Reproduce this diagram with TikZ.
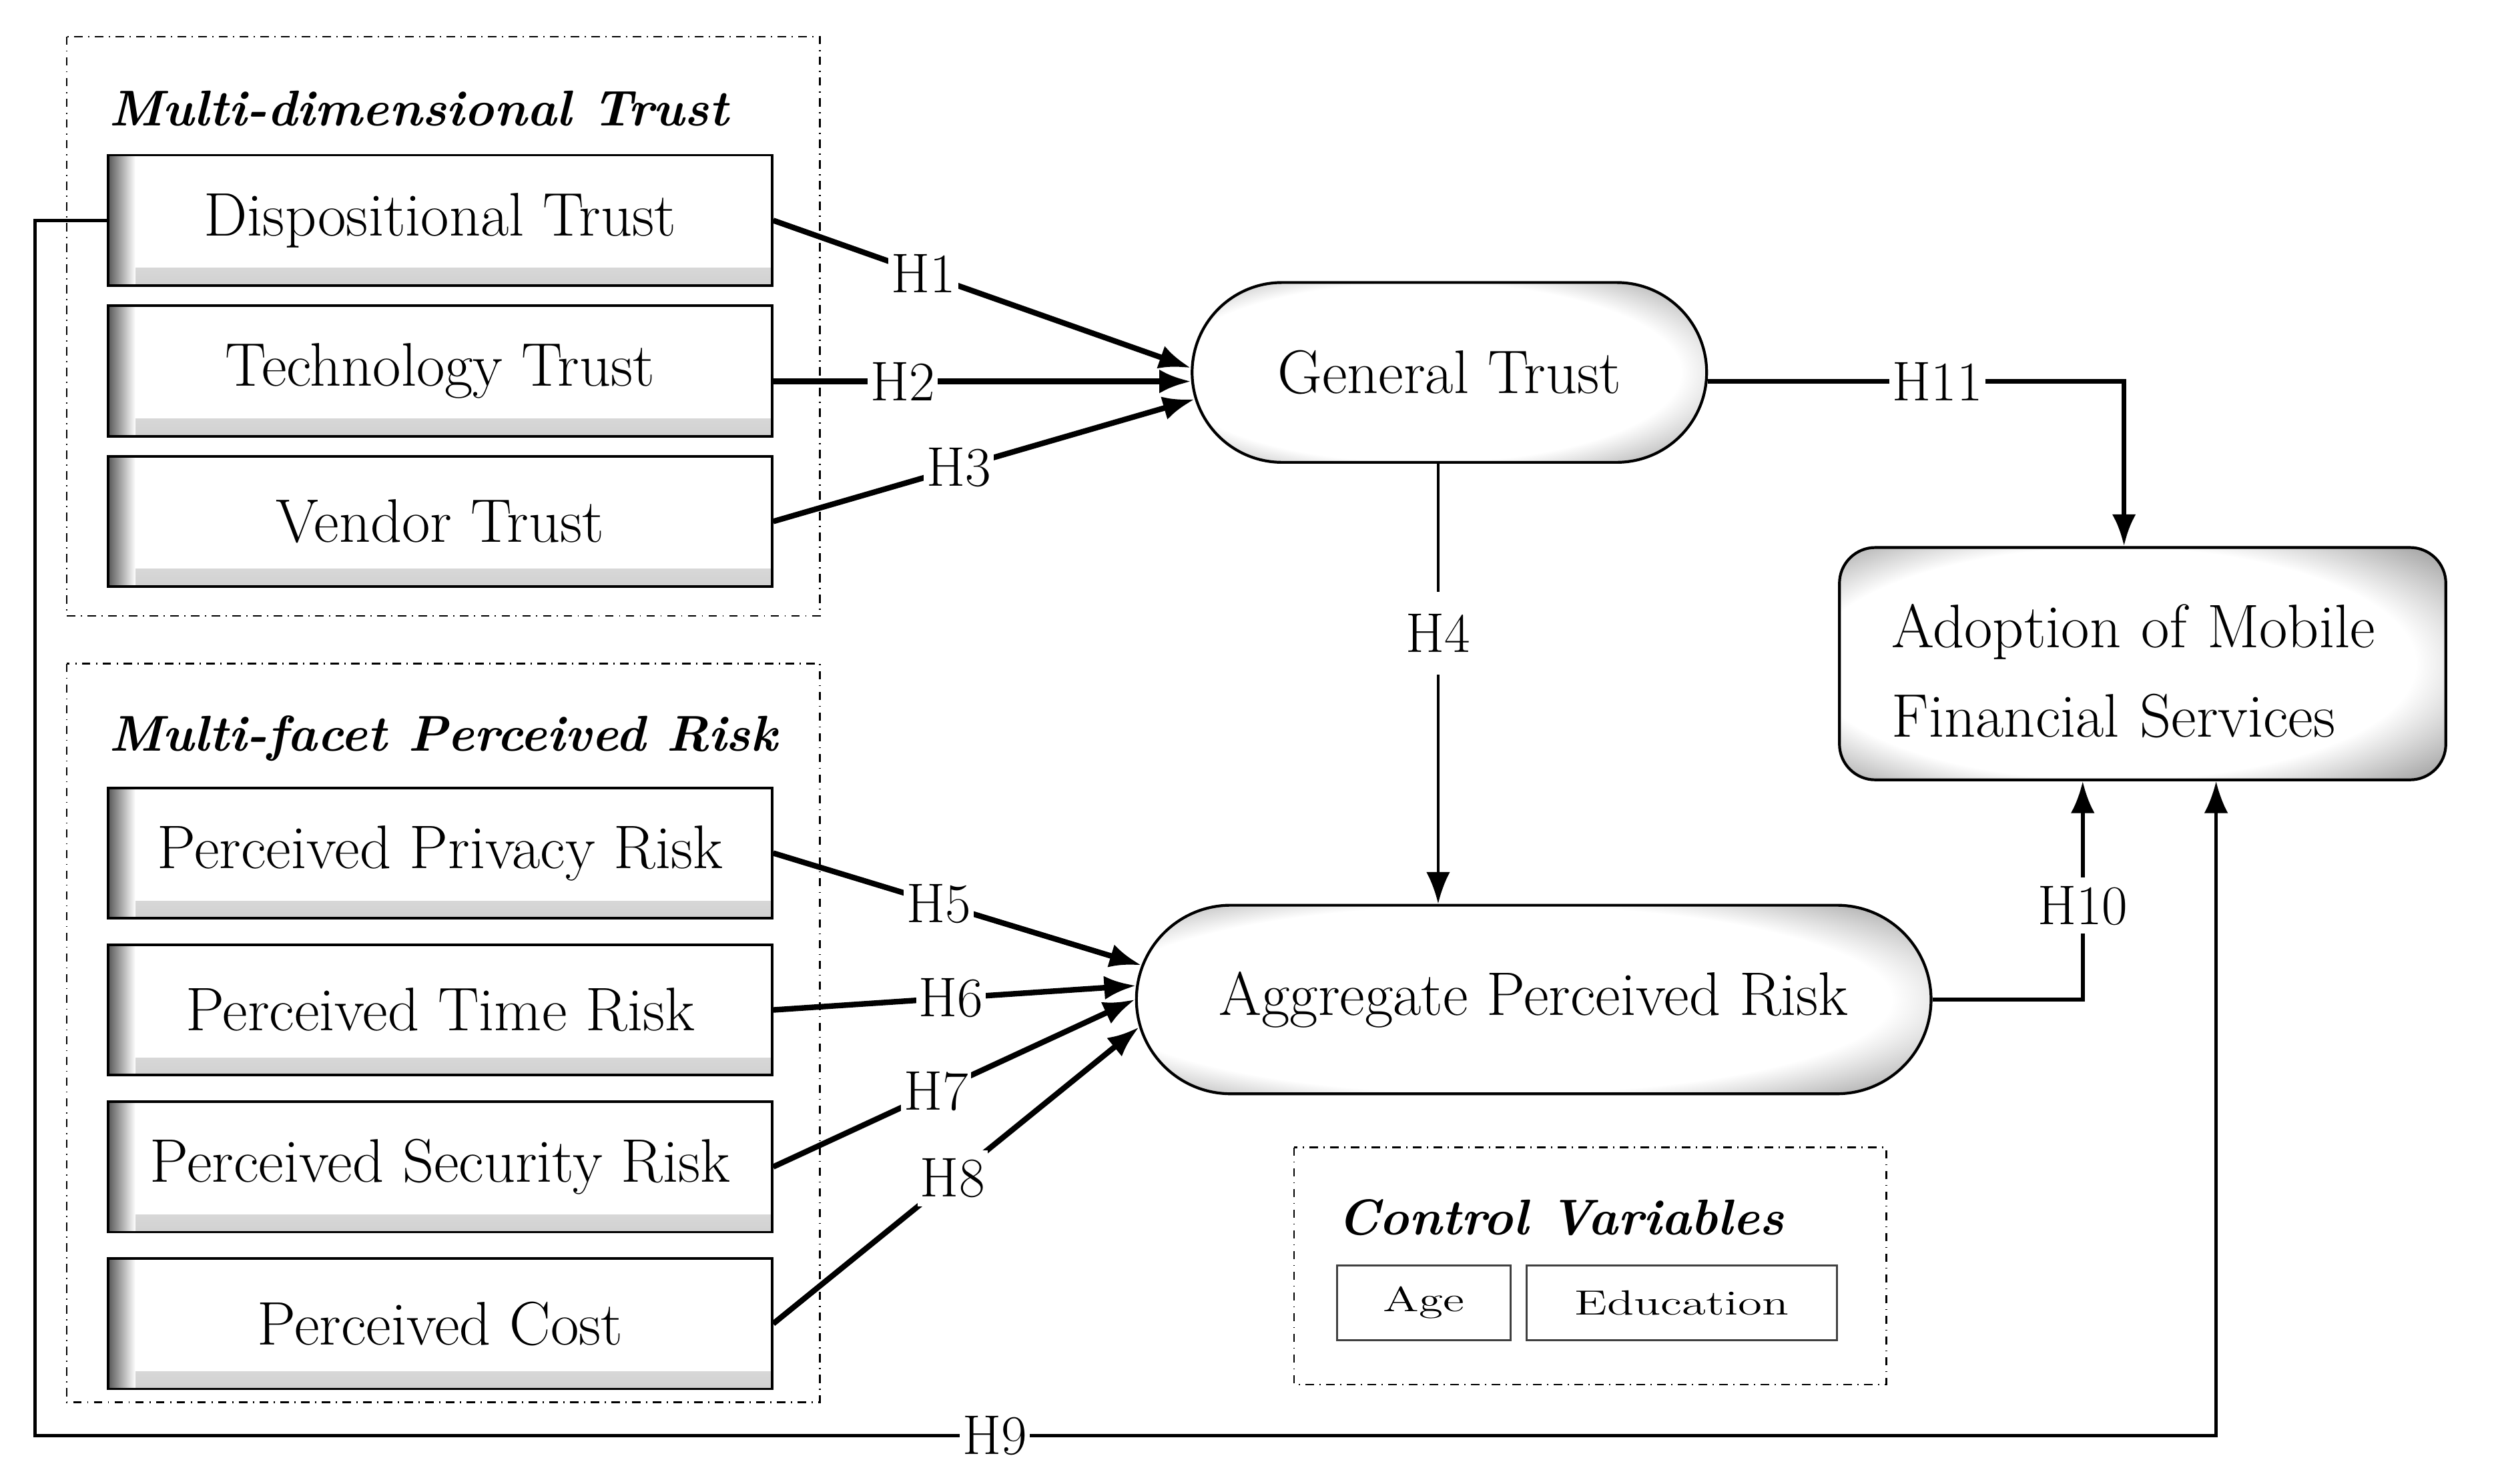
\documentclass[tikz,border=0pt]{standalone}
\usepackage{tikz}
\usetikzlibrary{chains,positioning,shapes.misc,arrows.meta}
\pgfdeclareradialshading{rimglow}{\pgfpoint{-5bp}{0bp}}{color(0bp)=(white); color(25bp)=(white); color(35bp)=(black!35); color(50bp)=(black!45)}
\newcommand{\wide}[1]{\scalebox{1.4}[1]{#1}}
\tikzstyle{factor}=[draw,line width=0.9pt,minimum width=8.34cm,minimum height=1.64cm,inner sep=0pt,font=\fontsize{22}{26}\selectfont,
  path picture={\shade[top color=white,bottom color=black!18] (path picture bounding box.south west) rectangle ([yshift=0.22cm]path picture bounding box.south east);
  \shade[left color=black!65,right color=white] (path picture bounding box.south west) rectangle ([xshift=0.34cm]path picture bounding box.north west);}]
\tikzstyle{construct}=[draw,line width=1pt,rounded rectangle,shade,shading=rimglow,font=\fontsize{22}{26}\selectfont]
\tikzstyle{outcome}=[draw,line width=1pt,rounded corners=0.45cm,shade,shading=rimglow,minimum width=7.62cm,minimum height=2.92cm,text width=6.3cm,text height=21pt,align=left,font=\fontsize{22}{32}\selectfont]
\tikzstyle{group}=[draw,dash dot,line width=0.6pt]
\tikzstyle{grouptitle}=[anchor=base west,inner sep=0pt,font=\fontsize{18}{22}\selectfont\bfseries\itshape]
\tikzstyle{ctrl}=[draw=black!75,line width=0.6pt,minimum height=0.94cm,inner sep=0pt,font=\fontsize{12.5}{15}\selectfont]
\tikzstyle{hyp}=[line width=2pt,-{Latex[length=0.4cm,width=0.3cm]}]
\tikzstyle{hlabel}=[fill=white,inner xsep=1pt,inner ysep=3pt,font=\fontsize{20}{24}\selectfont]
\begin{document}
\begin{tikzpicture}[x=0.02cm,y=-0.02cm]
\useasboundingbox (0,0) rectangle (1568,932);
\draw[group] (42,23) rectangle (515,387);
\draw[group] (42,417) rectangle (515,881);
\draw[group] (813,721) rectangle (1185,870);
\node[grouptitle] (mdt) at (68,79) {Multi-dimensional Trust};
\node[grouptitle] (mfr) at (68,472) {Multi-facet Perceived Risk};
\node[grouptitle] (cv) at (840,776) {Control Variables};
\begin{scope}[start chain=trust going below,node distance=0.22cm]
    \node [on chain=trust,factor] (disp) at (276.5,138.5) {Dispositional Trust};
    \node [on chain=trust,factor] (tech) {Technology Trust};
    \node [on chain=trust,factor] (vend) {Vendor Trust};
\end{scope}
\begin{scope}[start chain=risk going below,node distance=0.3cm]
    \node [on chain=risk,factor] (priv) at (276.5,536) {Perceived Privacy Risk};
    \node [on chain=risk,factor] (time) {Perceived Time Risk};
    \node [on chain=risk,factor] (secu) {Perceived Security Risk};
    \node [on chain=risk,factor] (cost) {Perceived Cost};
\end{scope}
\node[construct,minimum width=6.7cm,minimum height=2.26cm] (gt) at (910.5,234) {General Trust};
\node[construct,minimum width=10.22cm,minimum height=2.37cm] (apr) at (963.5,628) {Aggregate Perceived Risk};
\node[outcome] (amfs) at (1346,417) {Adoption of Mobile\\Financial Services};
\node[ctrl,minimum width=2.18cm] (age) at (894.5,818.5) {\wide{Age}};
\node[ctrl,minimum width=3.9cm,right=0.18cm of age] (edu) {\wide{Education}};
\coordinate (h9turn) at (22,902);
\draw[hyp] (disp.east) -- node[hlabel,pos=0.36] {H1} (gt.179);
\draw[hyp] (tech.east |- gt.182) -- node[hlabel,pos=0.31] {H2} (gt.182);
\draw[hyp] (vend.east) -- node[hlabel,pos=0.44] {H3} (gt.186);
\draw[hyp] (priv.east) -- node[hlabel,pos=0.45] {H5} (apr.175);
\draw[hyp] (time.east) -- node[hlabel,pos=0.49] {H6} (apr.178);
\draw[hyp] (secu.east) -- node[hlabel,pos=0.45] {H7} (apr.west);
\draw[hyp] (cost.east) -- node[hlabel,pos=0.49] {H8} (apr.184.5);
\draw[hyp,line width=1.1pt] (gt.263) -- node[hlabel,pos=0.385,inner ysep=8pt] {H4} (gt.263 |- apr.north);
\draw[hyp,line width=1.7pt] (gt.358) -| node[hlabel,pos=0.276] {H11} (amfs.99);
\draw[hyp,line width=1.4pt] (apr.east) -| node[hlabel,pos=0.715] {H10} (amfs.243);
\draw[hyp,line width=1.1pt] (disp.west) -| (h9turn) -| node[hlabel,pos=0.22] {H9} (amfs.302);
\end{tikzpicture}
\end{document}
